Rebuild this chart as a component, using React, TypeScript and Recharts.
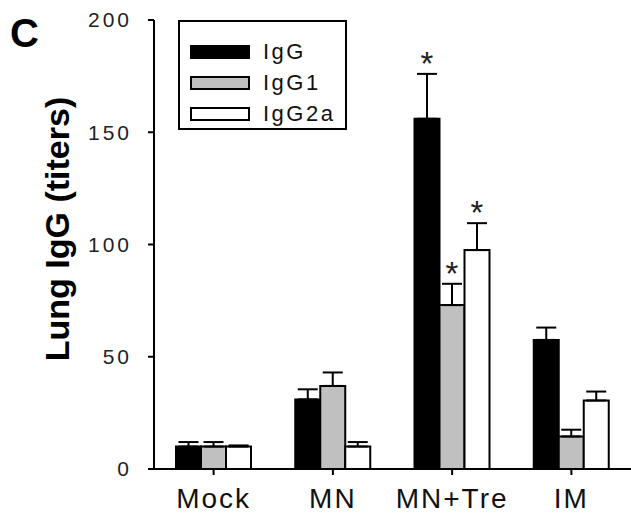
import React from "react";
import {
  BarChart,
  Bar,
  XAxis,
  YAxis,
  ErrorBar,
  LabelList,
  Legend,
} from "recharts";

// 그룹 / 시리즈 값
const GROUPS = ["Mock", "MN", "MN+Tre", "IM"];
const IGG = [10, 31, 156, 57.5];
const IGG1 = [10, 37, 73, 14.5];
const IGG2A = [10, 10, 97.5, 30.5];
const IGG_ERR = [2, 4.5, 20, 5.5];
const IGG1_ERR = [2, 6, 9.5, 3];
const IGG2A_ERR = [0.5, 2, 12, 4];
const IGG_STAR = [false, false, true, false];
const IGG1_STAR = [false, false, true, false];
const IGG2A_STAR = [false, false, true, false];
const Y_TICKS = [0, 50, 100, 150, 200];

const SERIES = [
  { key: "igg", name: "IgG", fill: "#000000", values: IGG, errs: IGG_ERR },
  { key: "igg1", name: "IgG1", fill: "#c0c0c0", values: IGG1, errs: IGG1_ERR },
  { key: "igg2a", name: "IgG2a", fill: "#ffffff", values: IGG2A, errs: IGG2A_ERR },
];

const data = GROUPS.map((g, i) => ({
  group: g,
  igg: IGG[i],
  igg1: IGG1[i],
  igg2a: IGG2A[i],
  iggErr: [0, IGG_ERR[i]],
  igg1Err: [0, IGG1_ERR[i]],
  igg2aErr: [0, IGG2A_ERR[i]],
  iggStar: IGG_STAR[i],
  igg1Star: IGG1_STAR[i],
  igg2aStar: IGG2A_STAR[i],
}));

const FONT = "'Liberation Sans', Arial, sans-serif";

// 별표: 오차 막대 위에 표시
const makeStar = (values: number[], errs: number[]) => (props: any) => {
  const { x, y, width, height, value, index } = props;
  if (!value) return null;
  const perUnit = height / values[index];
  const errTop = y - errs[index] * perUnit;
  return (
    <text
      x={x + width / 2}
      y={errTop + 1}
      textAnchor="middle"
      fontSize={33}
      fontFamily={FONT}
      fill="#222"
    >
      *
    </text>
  );
};

const LegendBox = () => (
  <div
    style={{
      width: 169,
      height: 110,
      border: "2px solid #000",
      background: "#fff",
      boxSizing: "border-box",
      paddingTop: 14,
      paddingLeft: 10,
      fontFamily: FONT,
      textAlign: "left",
    }}
  >
    {SERIES.map((s) => (
      <div
        key={s.key}
        style={{ display: "flex", alignItems: "center", height: 31 }}
      >
        <div
          style={{
            width: 60,
            height: 14,
            background: s.fill,
            border: "2px solid #000",
            boxSizing: "border-box",
          }}
        />
        <span
          style={{
            marginLeft: 13,
            fontSize: 22,
            letterSpacing: 2.5,
            color: "#111",
          }}
        >
          {s.name}
        </span>
      </div>
    ))}
  </div>
);

export default function App() {
  return (
    <div style={{ position: "absolute", left: 0, top: 0, width: 631, height: 523, background: "#fff" }}>
      <BarChart
        width={631}
        height={523}
        data={data}
        margin={{ top: 20, right: 0, bottom: 0, left: 0 }}
        barCategoryGap={22}
        barGap={0}
      >
        <XAxis
          dataKey="group"
          height={54}
          tickSize={6}
          tickMargin={13}
          axisLine={{ stroke: "#000", strokeWidth: 2 }}
          tickLine={{ stroke: "#000", strokeWidth: 2 }}
          tick={{ fontSize: 28, fontFamily: FONT, fill: "#111", letterSpacing: 2 }}
        />
        <YAxis
          width={154}
          domain={[0, 200]}
          ticks={Y_TICKS}
          interval={0}
          tickSize={6}
          tickMargin={16}
          axisLine={{ stroke: "#000", strokeWidth: 2 }}
          tickLine={{ stroke: "#000", strokeWidth: 2 }}
          tick={{ fontSize: 21, fontFamily: FONT, fill: "#222", letterSpacing: 3 }}
        />
        <Legend
          verticalAlign="middle"
          align="center"
          layout="horizontal"
          content={<LegendBox />}
          wrapperStyle={{ position: "absolute", left: 178, top: 20, width: 169, height: 110 }}
        />
        {SERIES.map((s) => (
          <Bar
            key={s.key}
            dataKey={s.key}
            name={s.name}
            fill={s.fill}
            stroke="#000"
            strokeWidth={2}
            isAnimationActive={false}
          >
            <ErrorBar
              dataKey={`${s.key}Err`}
              direction="y"
              width={10}
              stroke="#000"
              strokeWidth={2}
              isAnimationActive={false}
            />
            <LabelList
              dataKey={`${s.key}Star`}
              content={makeStar(s.values, s.errs)}
            />
          </Bar>
        ))}
        <text
          x={57}
          y={229}
          transform="rotate(-90 57 229)"
          textAnchor="middle"
          dominantBaseline="central"
          fontSize={34}
          fontWeight="bold"
          fontFamily={FONT}
          fill="#000"
        >
          Lung IgG (titers)
        </text>
        <text x={10} y={47} fontSize={40} fontWeight="bold" fontFamily={FONT} fill="#000">
          C
        </text>
      </BarChart>
    </div>
  );
}
